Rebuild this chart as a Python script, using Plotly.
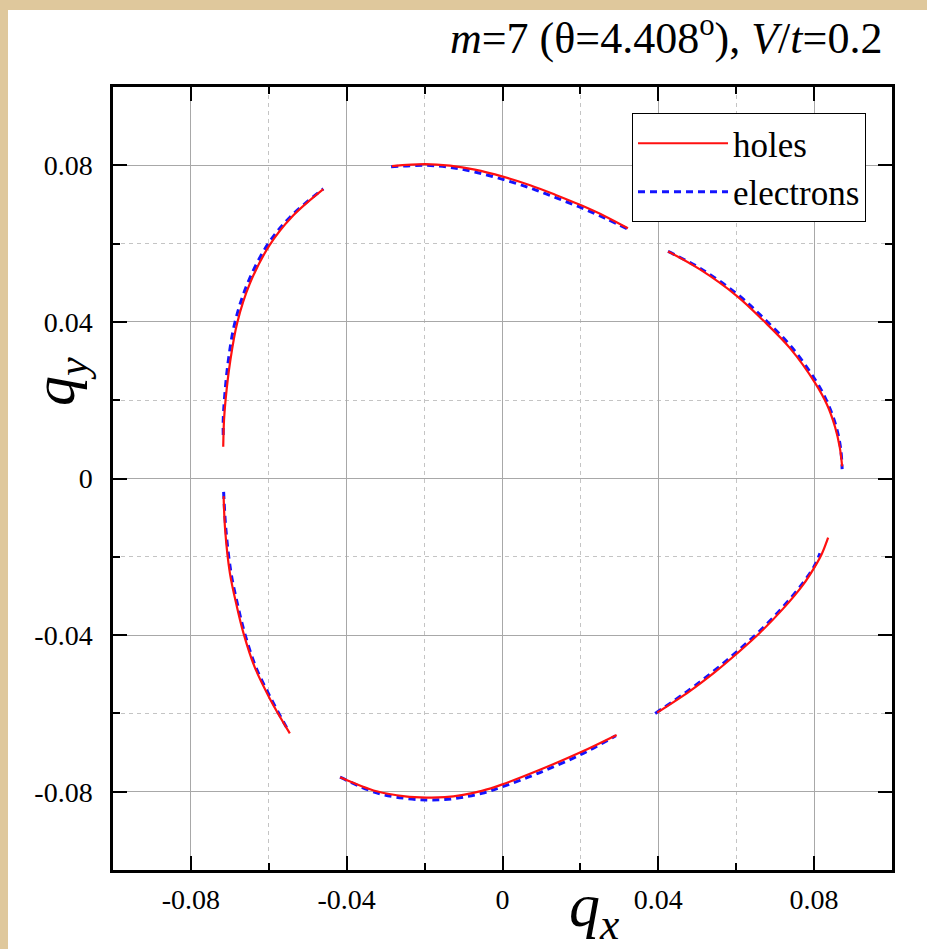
import plotly.graph_objects as go

# ---- Fermi-contour arcs in (q_x, q_y); six arcs per carrier type ----
holes_x = [
    [-0.0284, -0.0199, -0.0135, -0.0071, 0.0001, 0.0071, 0.0135, 0.0199, 0.0263, 0.0322],
    [0.0425, 0.0507, 0.0602, 0.0669, 0.0738, 0.0802, 0.0833, 0.0854, 0.0866, 0.0872],
    [0.0397, 0.0481, 0.0546, 0.0602, 0.0661, 0.0720, 0.0772, 0.0802, 0.0820, 0.0836],
    [-0.0417, -0.0323, -0.0250, -0.0195, -0.0148, -0.0101, -0.0053, -0.0002, 0.0096, 0.0199, 0.0293],
    [-0.0716, -0.0712, -0.0700, -0.0682, -0.0665, -0.0637, -0.0597, -0.0546],
    [-0.0717, -0.0715, -0.0711, -0.0699, -0.0681, -0.0649, -0.0598, -0.0541, -0.0460],
]
holes_y = [
    [0.0798, 0.0803, 0.0799, 0.0789, 0.0771, 0.0749, 0.0725, 0.0699, 0.0670, 0.0639],
    [0.0580, 0.0534, 0.0466, 0.0404, 0.0333, 0.0245, 0.0189, 0.0131, 0.0079, 0.0031],
    [-0.0598, -0.0543, -0.0494, -0.0447, -0.0394, -0.0333, -0.0271, -0.0225, -0.0192, -0.0151],
    [-0.0763, -0.0799, -0.0812, -0.0815, -0.0814, -0.0808, -0.0798, -0.0782, -0.0744, -0.0700, -0.0655],
    [-0.0045, -0.0132, -0.0241, -0.0327, -0.0395, -0.0480, -0.0563, -0.0651],
    [0.0081, 0.0149, 0.0201, 0.0300, 0.0398, 0.0497, 0.0596, 0.0668, 0.0739],
]

electrons_x = [
    [-0.0286, -0.0199, -0.0135, -0.0071, 0.0001, 0.0071, 0.0135, 0.0199, 0.0263, 0.0322],
    [0.0425, 0.0509, 0.0605, 0.0673, 0.0742, 0.0806, 0.0836, 0.0857, 0.0868, 0.0872],
    [0.0392, 0.0481, 0.0546, 0.0602, 0.0661, 0.0720, 0.0772, 0.0802, 0.0815],
    [-0.0417, -0.0323, -0.0250, -0.0195, -0.0148, -0.0101, -0.0053, -0.0002, 0.0096, 0.0199, 0.0291],
    [-0.0716, -0.0710, -0.0697, -0.0679, -0.0662, -0.0634, -0.0594, -0.0551],
    [-0.0717, -0.0717, -0.0714, -0.0704, -0.0687, -0.0655, -0.0604, -0.0545, -0.0460],
]
electrons_y = [
    [0.0796, 0.0800, 0.0795, 0.0783, 0.0764, 0.0742, 0.0718, 0.0693, 0.0665, 0.0637],
    [0.0580, 0.0536, 0.0469, 0.0407, 0.0336, 0.0247, 0.0190, 0.0131, 0.0078, 0.0024],
    [-0.0600, -0.0539, -0.0489, -0.0442, -0.0389, -0.0328, -0.0266, -0.0221, -0.0191],
    [-0.0763, -0.0803, -0.0817, -0.0821, -0.0820, -0.0814, -0.0804, -0.0788, -0.0751, -0.0706, -0.0657],
    [-0.0034, -0.0132, -0.0241, -0.0327, -0.0395, -0.0480, -0.0563, -0.0642],
    [0.0111, 0.0149, 0.0201, 0.0300, 0.0398, 0.0497, 0.0596, 0.0668, 0.0740],
]

major_ticks = [-0.08, -0.04, 0.0, 0.04, 0.08]
major_labels = ["-0.08", "-0.04", "0", "0.04", "0.08"]
minor_ticks = [-0.06, -0.02, 0.02, 0.06]

SERIF = "Times New Roman, Liberation Serif, Tinos, DejaVu Serif, serif"


def join_arcs(arcs):
    """Concatenate arcs with None breaks so each is drawn separately."""
    out = []
    for arc in arcs:
        out.extend(arc)
        out.append(None)
    return out[:-1]


fig = go.Figure()

fig.add_trace(go.Scatter(
    x=join_arcs(electrons_x), y=join_arcs(electrons_y),
    mode="lines", name="electrons", legendrank=2,
    line=dict(color="#1414ff", width=3, dash="7px,5px", shape="spline", smoothing=1.0),
    connectgaps=False,
))
fig.add_trace(go.Scatter(
    x=join_arcs(holes_x), y=join_arcs(holes_y),
    mode="lines", name="holes", legendrank=1,
    line=dict(color="#ff1010", width=2.2, shape="spline", smoothing=1.0),
    connectgaps=False,
))

axis_common = dict(
    range=[-0.1, 0.1],
    tickmode="array",
    tickvals=major_ticks,
    ticktext=major_labels,
    ticks="inside",
    ticklen=14,
    tickwidth=2,
    tickcolor="black",
    showline=True,
    linewidth=2.5,
    linecolor="black",
    mirror="ticks",
    showgrid=True,
    gridcolor="#a8a8a8",
    gridwidth=1.3,
    zeroline=False,
    tickfont=dict(family=SERIF, size=28, color="black"),
    minor=dict(
        tickmode="array",
        tickvals=minor_ticks,
        ticks="inside",
        ticklen=7,
        tickwidth=1.5,
        tickcolor="black",
        showgrid=True,
        gridcolor="#c4c4c4",
        gridwidth=1,
        griddash="4px,4px",
    ),
)

fig.update_xaxes(**axis_common, ticklabelstandoff=3)
fig.update_yaxes(**axis_common, ticklabelstandoff=12)

W, H = 927, 949
L, R, T, B = 113, 35, 87, 79
pw, ph = W - L - R, H - T - B


def px_x(p):
    return (p - L) / pw


def px_y(p):
    return (H - B - p) / ph


# beige mat along the top and left edges of the page
beige = "#dfc89c"
fig.add_shape(type="rect", xref="paper", yref="paper", layer="below",
              x0=px_x(0), x1=px_x(8), y0=px_y(H), y1=px_y(0),
              fillcolor=beige, line=dict(width=0))
fig.add_shape(type="rect", xref="paper", yref="paper", layer="below",
              x0=px_x(0), x1=px_x(W), y0=px_y(10), y1=px_y(0),
              fillcolor=beige, line=dict(width=0))

fig.add_annotation(
    text="<i>m</i>=7 (θ=4.408<sup>o</sup>), <i>V</i>/<i>t</i>=0.2",
    xref="paper", yref="paper", x=px_x(884), y=px_y(36),
    xanchor="right", yanchor="middle", showarrow=False,
    font=dict(family=SERIF, size=44, color="black"),
)
fig.add_annotation(
    text="<i>q</i><sub><i>x</i></sub>",
    xref="paper", yref="paper", x=px_x(594), y=px_y(910),
    xanchor="center", yanchor="middle", showarrow=False,
    font=dict(family=SERIF, size=62, color="black"),
)
fig.add_annotation(
    text="<i>q</i><sub><i>y</i></sub>",
    xref="paper", yref="paper", x=px_x(58), y=px_y(382),
    xanchor="center", yanchor="middle", showarrow=False, textangle=-90,
    font=dict(family=SERIF, size=60, color="black"),
)

fig.update_layout(
    width=W, height=H,
    margin=dict(l=L, r=R, t=T, b=B, pad=0),
    font=dict(family=SERIF, color="black"),
    paper_bgcolor="white",
    plot_bgcolor="white",
    showlegend=True,
    legend=dict(
        x=px_x(632), y=px_y(113), xanchor="left", yanchor="top",
        bgcolor="white", bordercolor="black", borderwidth=1,
        font=dict(family=SERIF, size=35, color="black"),
        itemwidth=90, tracegroupgap=0,
    ),
)

fig.write_html("out.html")
